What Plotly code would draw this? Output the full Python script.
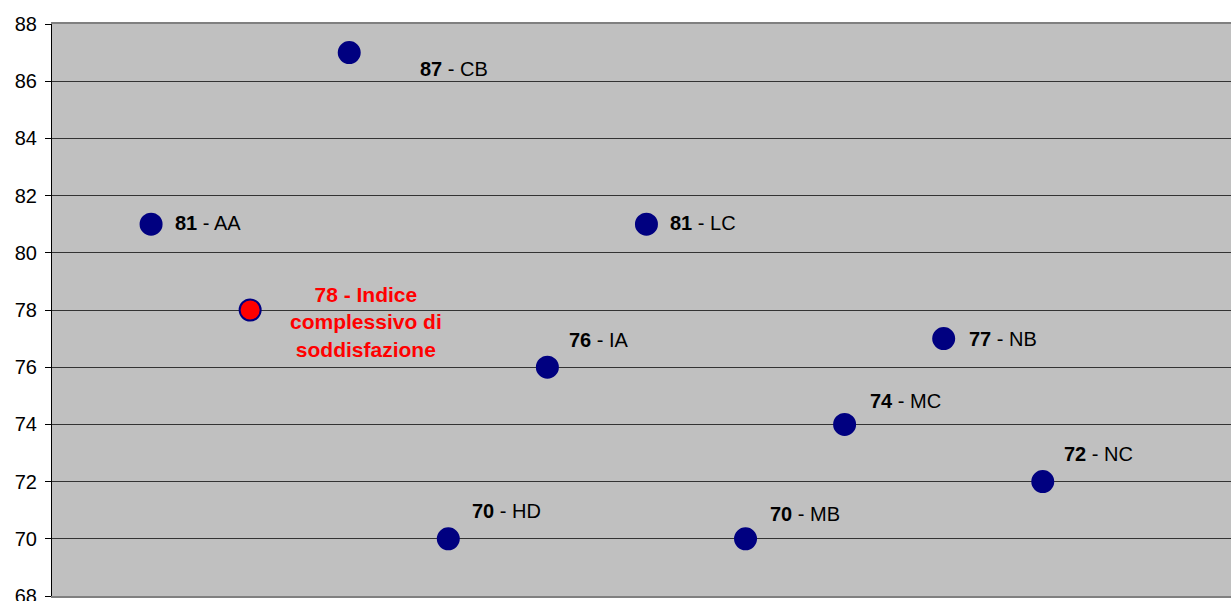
import plotly.graph_objects as go

# Satisfaction scores per area, plus the overall index
codes = ["AA", "IDX", "CB", "HD", "IA", "LC", "MB", "MC", "NB", "NC"]
scores = [81, 78, 87, 70, 76, 81, 70, 74, 77, 72]
positions = [1, 2, 3, 4, 5, 6, 7, 8, 9, 10]
overall_label = "Indice<br>complessivo di<br>soddisfazione"

y_ticks = [68, 70, 72, 74, 76, 78, 80, 82, 84, 86, 88]

# Label placement relative to each marker (pixels: right, up)
label_offsets = {
    "AA": (22, 1), "CB": (69, -16), "HD": (22, 28), "IA": (20, 27),
    "LC": (22, 1), "MB": (22, 25), "MC": (23, 23), "NB": (23, 0),
    "NC": (19, 28), "IDX": (116, -12),
}

NAVY = "#000080"
RED = "#FF0000"
FONT = "Liberation Sans, Arial, sans-serif"

fig = go.Figure()

colors = [RED if c == "IDX" else NAVY for c in codes]
fig.add_trace(go.Scatter(
    x=positions, y=scores, mode="markers",
    marker=dict(size=21, color=colors, line=dict(color=NAVY, width=2)),
    hoverinfo="skip", showlegend=False,
))

annotations = []
for x, y, c in zip(positions, scores, codes):
    dx, dy = label_offsets[c]
    if c == "IDX":
        annotations.append(dict(
            x=x, y=y, xref="x", yref="y", xshift=dx, yshift=dy,
            text=f"<b>{y} - {overall_label}</b>", showarrow=False,
            xanchor="center", yanchor="middle", align="center",
            font=dict(family=FONT, size=21, color=RED),
        ))
    else:
        annotations.append(dict(
            x=x, y=y, xref="x", yref="y", xshift=dx, yshift=dy,
            text=f"<b>{y}</b> - {c}", showarrow=False,
            xanchor="left", yanchor="middle",
            font=dict(family=FONT, size=20, color="#000000"),
        ))

fig.update_layout(
    width=1231, height=601,
    margin=dict(l=52, r=0, t=24, b=5, autoexpand=False),
    paper_bgcolor="#FFFFFF", plot_bgcolor="#C0C0C0",
    font=dict(family=FONT, size=19, color="#000000"),
    annotations=annotations,
    xaxis=dict(
        range=[0, 11.9], showticklabels=False, ticks="", showgrid=False,
        zeroline=False, showline=True, mirror=True,
        linecolor="#808080", linewidth=2, automargin=False,
    ),
    yaxis=dict(
        range=[68, 88], tickvals=y_ticks, ticks="outside", ticklen=6,
        tickcolor="#000000", showgrid=True, gridcolor="#333333", gridwidth=1,
        zeroline=False, showline=True, linecolor="#000000", linewidth=1,
        ticklabelstandoff=4, ticklabeloverflow="allow", automargin=False,
        tickfont=dict(family=FONT, size=20, color="#000000"),
    ),
)

fig.write_html("out.html")
